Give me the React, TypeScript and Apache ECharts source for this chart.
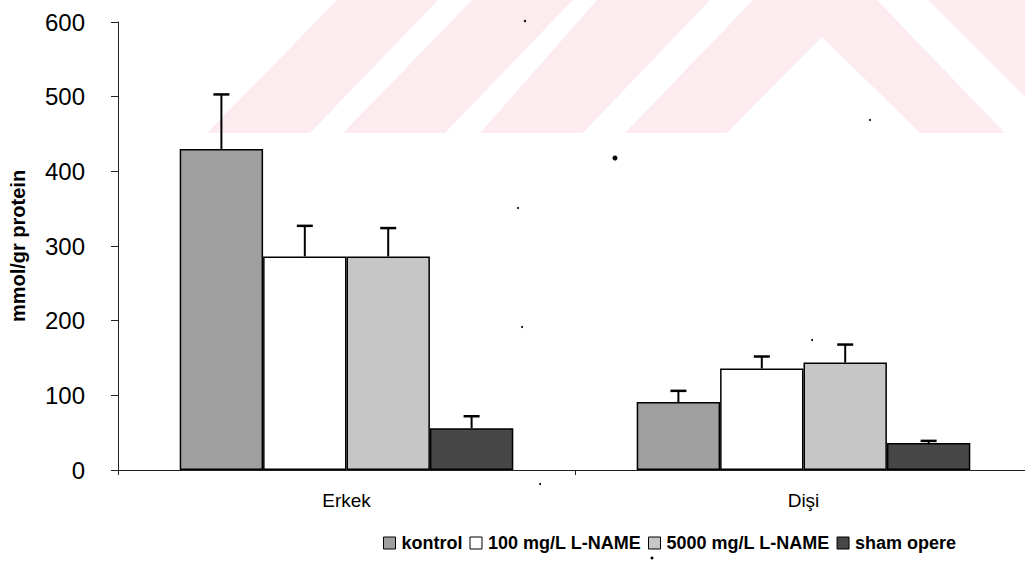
import React, { useEffect, useRef } from "react";
import * as echarts from "echarts";

const categories = ["Erkek", "Dişi"];
const seriesNames = ["kontrol", "100 mg/L L-NAME", "5000 mg/L L-NAME", "sham opere"];
const kontrol = [430, 91];
const lname100 = [286, 136];
const lname5000 = [286, 144];
const sham = [56, 36];
const kontrolErr = [73, 15];
const lname100Err = [41, 16];
const lname5000Err = [38, 24];
const shamErr = [16, 3];
const yTicks = [0, 100, 200, 300, 400, 500, 600];

const FONT = 'Arial, "Liberation Sans", sans-serif';

export default function App() {
  const ref = useRef<HTMLDivElement>(null);
  useEffect(() => {
    if (!ref.current) return;
    document.body.style.margin = "0";
    document.body.style.overflow = "hidden";
    document.documentElement.style.overflow = "hidden";
    const chart = echarts.init(ref.current, null, { renderer: "svg" });
    const values = [kontrol, lname100, lname5000, sham];
    const errs = [kontrolErr, lname100Err, lname5000Err, shamErr];
    const fills = ["#9f9f9f", "#ffffff", "#c6c6c6", "#474747"];
    const gapPct = 0.27;

    const barSeries = seriesNames.map((name, i) => ({
      name,
      type: "bar",
      data: values[i],
      barGap: "0%",
      barCategoryGap: "27%",
      itemStyle: { color: fills[i], borderColor: "#000", borderWidth: 1.5 },
      z: 2,
    }));

    const errSeries = seriesNames.map((name, i) => ({
      name: name + "_err",
      type: "custom",
      z: 3,
      data: categories.map((_, j) => [j, values[i][j], errs[i][j]]),
      renderItem: (params: any, api: any) => {
        const j = api.value(0);
        const v = api.value(1);
        const e = api.value(2);
        const band = api.size([1, 0])[0];
        const bw = (band * (1 - gapPct)) / 4;
        const base = api.coord([j, v]);
        const top = api.coord([j, v + e]);
        const x = base[0] - 2 * bw + (i + 0.5) * bw;
        const cap = 8;
        return {
          type: "group",
          children: [
            { type: "line", shape: { x1: x, y1: base[1], x2: x, y2: top[1] }, style: { stroke: "#000", lineWidth: 2 } },
            { type: "line", shape: { x1: x - cap, y1: top[1], x2: x + cap, y2: top[1] }, style: { stroke: "#000", lineWidth: 2.5 } },
          ],
        };
      },
      silent: true,
    }));

    const pink = "#fdecef";
    const wm = [
      [[207, 133], [310, 133], [438, 0], [337, 0]],
      [[343, 133], [445, 133], [573, 0], [472, 0]],
      [[480, 133], [583, 133], [710, 0], [597, 0]],
      [[625, 133], [727, 133], [822, 37], [920, 133], [1005, 133], [877, 0], [753, 0]],
      [[928, 0], [1025, 0], [1025, 97]],
    ];
    const dots = [
      [615, 158, 2.5],
      [525, 21, 1.2],
      [870, 120, 1],
      [518, 208, 1],
      [522, 327, 1],
      [652, 558, 1.5],
      [540, 484, 1],
      [812, 340, 1],
    ];

    chart.setOption({
      animation: false,
      backgroundColor: "#ffffff",
      graphic: [
        ...wm.map((pts) => ({ type: "polygon", shape: { points: pts }, style: { fill: pink }, z: -10, silent: true })),
        ...dots.map(([x, y, r]) => ({ type: "circle", shape: { cx: x, cy: y, r }, style: { fill: "#000" }, z: 10, silent: true })),
      ],
      legend: {
        data: seriesNames,
        left: 378,
        top: 529,
        icon: "rect",
        itemWidth: 12,
        itemHeight: 12,
        itemGap: 7,
        textStyle: { fontFamily: FONT, fontSize: 18, fontWeight: "bold", color: "#000", padding: [0, 0, 0, 1] },
        itemStyle: { borderColor: "#000", borderWidth: 1 },
      },
      grid: { left: 117, right: 8, top: 22, bottom: 109, containLabel: false },
      xAxis: {
        type: "category",
        data: categories,
        axisLine: { lineStyle: { color: "#222", width: 1 } },
        axisTick: { show: true, length: 5, lineStyle: { color: "#222" } },
        axisLabel: { fontFamily: FONT, fontSize: 19, color: "#000", margin: 21 },
      },
      yAxis: {
        type: "value",
        min: 0,
        max: 600,
        interval: 100,
        name: "mmol/gr protein",
        nameLocation: "middle",
        nameGap: 90,
        nameRotate: 90,
        nameTextStyle: { fontFamily: FONT, fontSize: 20, fontWeight: "bold", color: "#000" },
        axisLine: { show: true, lineStyle: { color: "#222", width: 1 } },
        axisTick: { show: true, length: 7, lineStyle: { color: "#222" } },
        splitLine: { show: false },
        axisLabel: {
          fontFamily: FONT,
          fontSize: 24,
          color: "#000",
          margin: 33,
          formatter: (v: number) => (yTicks.includes(v) ? String(v) : ""),
        },
      },
      series: [...barSeries, ...errSeries],
    });
    return () => chart.dispose();
  }, []);
  return <div ref={ref} style={{ width: 1040, height: 579 }} />;
}
